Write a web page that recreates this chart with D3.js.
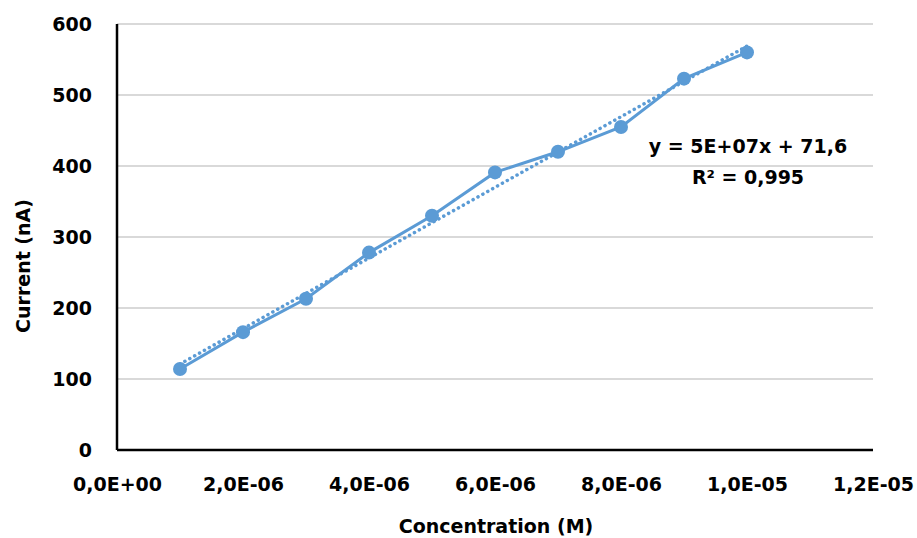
<!DOCTYPE html>
<html>
<head>
<meta charset="utf-8">
<script src="https://cdn.jsdelivr.net/npm/d3@7"></script>
<style>
  body { margin: 0; background: #fff; }
  text { font-family: "DejaVu Sans", sans-serif; font-weight: bold; fill: #000; }
  .grid line { stroke: #d9d9d9; stroke-width: 2; }
</style>
</head>
<body>
<script>
// data
const concentration = [1e-6, 2e-6, 3e-6, 4e-6, 5e-6, 6e-6, 7e-6, 8e-6, 9e-6, 1e-5];
const current = [114, 166, 213, 278, 330, 391, 420, 455, 523, 560];
const xTicks = [0, 2e-6, 4e-6, 6e-6, 8e-6, 1e-5, 1.2e-5];
const xTickLabels = ['0,0E+00', '2,0E-06', '4,0E-06', '6,0E-06', '8,0E-06', '1,0E-05', '1,2E-05'];
const yTicks = [0, 100, 200, 300, 400, 500, 600];
const equationLines = ['y = 5E+07x + 71,6', 'R² = 0,995'];

let width = 917
let height = 538
const margin = { top: 24, right: 44, bottom: 88, left: 117 };
let plotWidth = width - margin.left - margin.right;
let plotHeight = height - margin.top - margin.bottom;

let svg = d3.select('body').append('svg')
    .attr('width', width)
    .attr('height', height);

let plot = svg.append('g').attr('transform', `translate(${margin.left},${margin.top})`);

let x = d3.scaleLinear().domain([0, 1.2e-5]).range([0, plotWidth]);
let y = d3.scaleLinear().domain([0, 600]).range([plotHeight, 0]);

// gridlines
plot.append('g').attr('class', 'grid')
    .selectAll('line').data(yTicks.slice(1))
    .join('line')
    .attr('x1', 0).attr('x2', plotWidth)
    .attr('y1', d => y(d)).attr('y2', d => y(d));

// axes
let yAxis = plot.append('g').call(d3.axisLeft(y).tickValues(yTicks).tickSize(0).tickPadding(25));
yAxis.select('.domain').remove();
yAxis.selectAll('text').style('font-size', '19px').attr('dy', '0.36em');

let xAxis = plot.append('g').attr('transform', `translate(0,${plotHeight})`)
    .call(d3.axisBottom(x).tickValues(xTicks).tickFormat((d, i) => xTickLabels[i]).tickSize(0).tickPadding(34));
xAxis.select('.domain').remove();
xAxis.selectAll('text').style('font-size', '19px').attr('dy', '0.36em');

plot.append('line').attr('x1', 0).attr('x2', 0).attr('y1', 0).attr('y2', plotHeight)
    .attr('stroke', '#000').attr('stroke-width', 2.5);
plot.append('line').attr('x1', 0).attr('x2', plotWidth).attr('y1', plotHeight).attr('y2', plotHeight)
    .attr('stroke', '#000').attr('stroke-width', 2.5);

// linear trendline (least squares)
let xm = d3.mean(concentration), ym = d3.mean(current);
let slope = d3.sum(concentration, (d, i) => (d - xm) * (current[i] - ym)) / d3.sum(concentration, d => (d - xm) ** 2);
let intercept = ym - slope * xm;
let ends = d3.extent(concentration);
plot.append('line')
    .attr('x1', x(ends[0])).attr('y1', y(slope * ends[0] + intercept))
    .attr('x2', x(ends[1])).attr('y2', y(slope * ends[1] + intercept))
    .attr('stroke', '#5b9bd5').attr('stroke-width', 3.5)
    .attr('stroke-dasharray', '0.1,5.5').attr('stroke-linecap', 'round');

// data line and markers
let pts = concentration.map((c, i) => [c, current[i]]);
plot.append('path').datum(pts)
    .attr('fill', 'none').attr('stroke', '#5b9bd5').attr('stroke-width', 3)
    .attr('d', d3.line().x(d => x(d[0])).y(d => y(d[1])));
plot.selectAll('circle.pt').data(pts).join('circle')
    .attr('class', 'pt')
    .attr('cx', d => x(d[0])).attr('cy', d => y(d[1])).attr('r', 7)
    .attr('fill', '#5b9bd5');

// equation label
let eq = svg.append('text').attr('text-anchor', 'middle').style('font-size', '19px');
eq.append('tspan').attr('x', 748).attr('y', 153).text(equationLines[0]);
eq.append('tspan').attr('x', 748).attr('y', 184).text(equationLines[1]);

// axis titles
svg.append('text').attr('text-anchor', 'middle')
    .attr('x', 496).attr('y', 533).style('font-size', '19px')
    .text('Concentration (M)');
svg.append('text').attr('text-anchor', 'middle')
    .attr('transform', 'translate(30,266) rotate(-90)').style('font-size', '19px')
    .text('Current (nA)');
</script>
</body>
</html>
